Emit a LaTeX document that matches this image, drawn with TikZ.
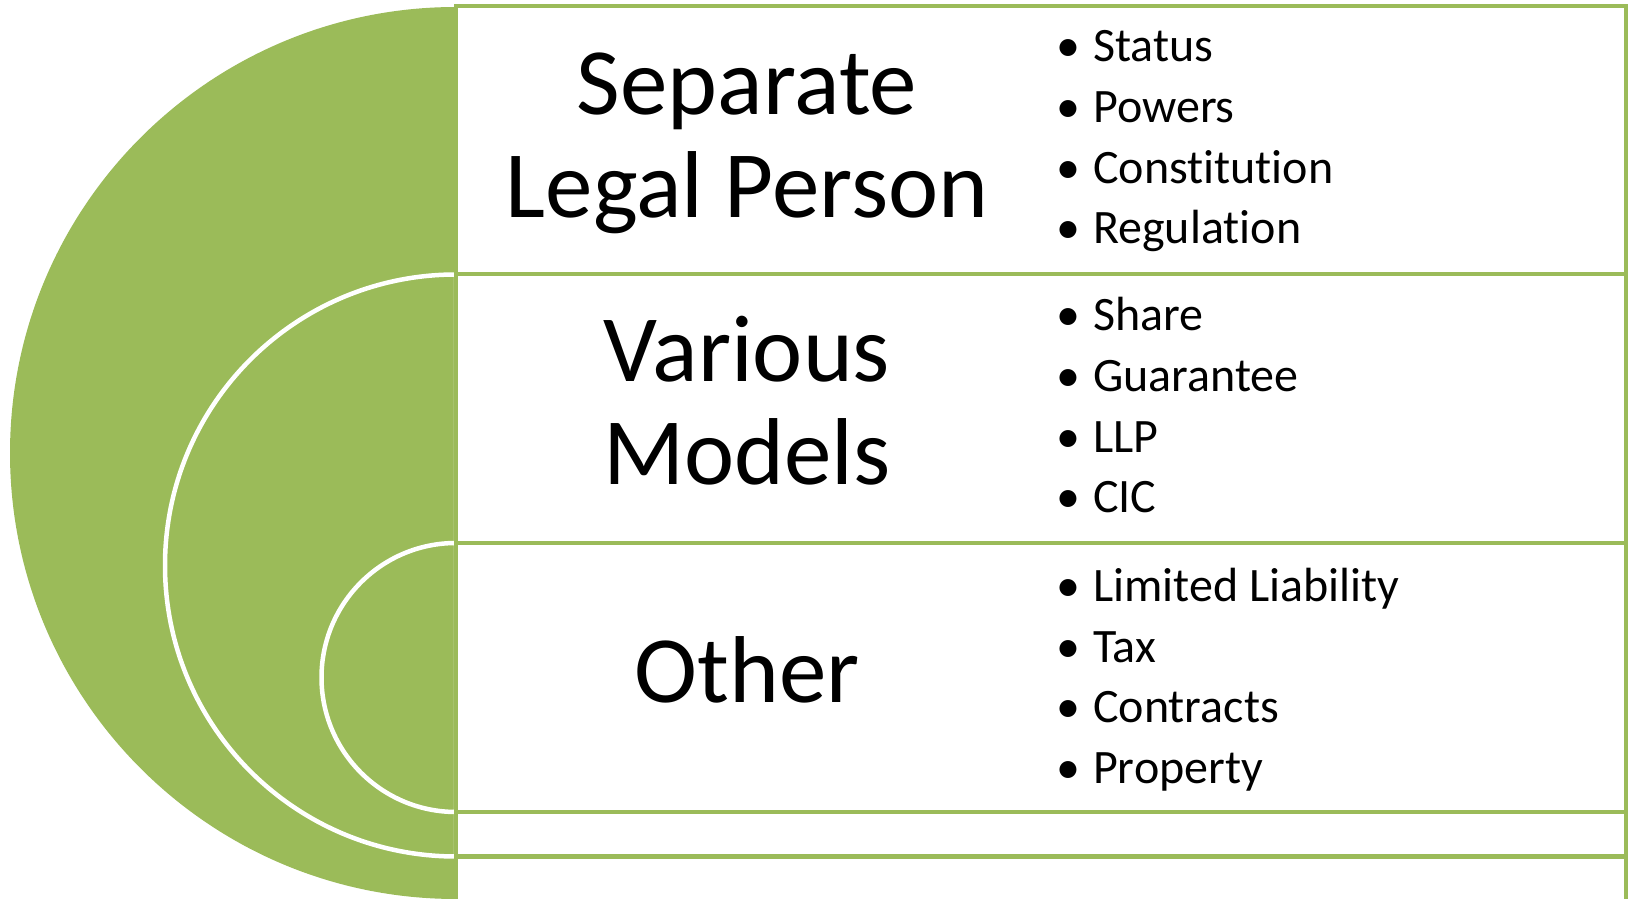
\documentclass[tikz,border=0pt]{standalone}
\usepackage{fontspec}
\setmainfont{Carlito}[RawFeature={-liga}]
\definecolor{sagegreen}{HTML}{9BBB59}
\tikzset{
  ring/.style={fill=sagegreen, draw=white, line width=4.5pt},
  band/.style={fill=white, draw=sagegreen, line width=4.5pt},
  bigtext/.style={inner sep=0pt, anchor=base, font=\fontsize{95}{108}\selectfont},
  itemtext/.style={inner sep=0pt, anchor=base west, font=\fontsize{48}{57}\selectfont},
}
\newcommand{\bul}{\llap{\textbullet\hspace{13pt}}}
\begin{document}
\begin{tikzpicture}[x=1pt,y=1pt]
\useasboundingbox (0,0) rectangle (1633,899);
\fill[white] (0,0) rectangle (1633,899);
% nested half discs
\fill[sagegreen] (456,892) arc[start angle=90,end angle=270,radius=446] -- cycle;
\filldraw[ring] (456,624.5) arc[start angle=90,end angle=270,radius=291] -- cycle;
\filldraw[ring] (456,356) arc[start angle=90,end angle=270,radius=134.5] -- cycle;
% bands
\draw[band] (456,893) rectangle (1626,625);
\draw[band] (456,625) rectangle (1626,356);
\draw[band] (456,356) rectangle (1626,87);
\draw[band] (456,87) rectangle (1626,42.5);
\draw[band] (456,42.5) rectangle (1626,-2);
% titles
\node[bigtext] (sepA) at (747,784) {Separate};
\node[bigtext] (sepB) at (747,681) {Legal Person};
\node[bigtext] (varA) at (747,517) {Various};
\node[bigtext] (varB) at (747,414) {Models};
\node[bigtext] (oth) at (747,196) {Other};
% items
\node[itemtext] (i1) at (1093,837) {\bul Status};
\node[itemtext] (i2) at (1093,776) {\bul Powers};
\node[itemtext] (i3) at (1093,715.5) {\bul Constitution};
\node[itemtext] (i4) at (1093,655) {\bul Regulation};
\node[itemtext] (i5) at (1093,568) {\bul Share};
\node[itemtext] (i6) at (1093,507.5) {\bul Guarantee};
\node[itemtext] (i7) at (1093,446.5) {\bul LLP};
\node[itemtext] (i8) at (1093,386) {\bul CIC};
\node[itemtext] (i9) at (1093,297.5) {\bul Limited Liability};
\node[itemtext] (i10) at (1093,236.5) {\bul Tax};
\node[itemtext] (i11) at (1093,176) {\bul Contracts};
\node[itemtext] (i12) at (1093,115.5) {\bul Property};
\end{tikzpicture}
\end{document}
